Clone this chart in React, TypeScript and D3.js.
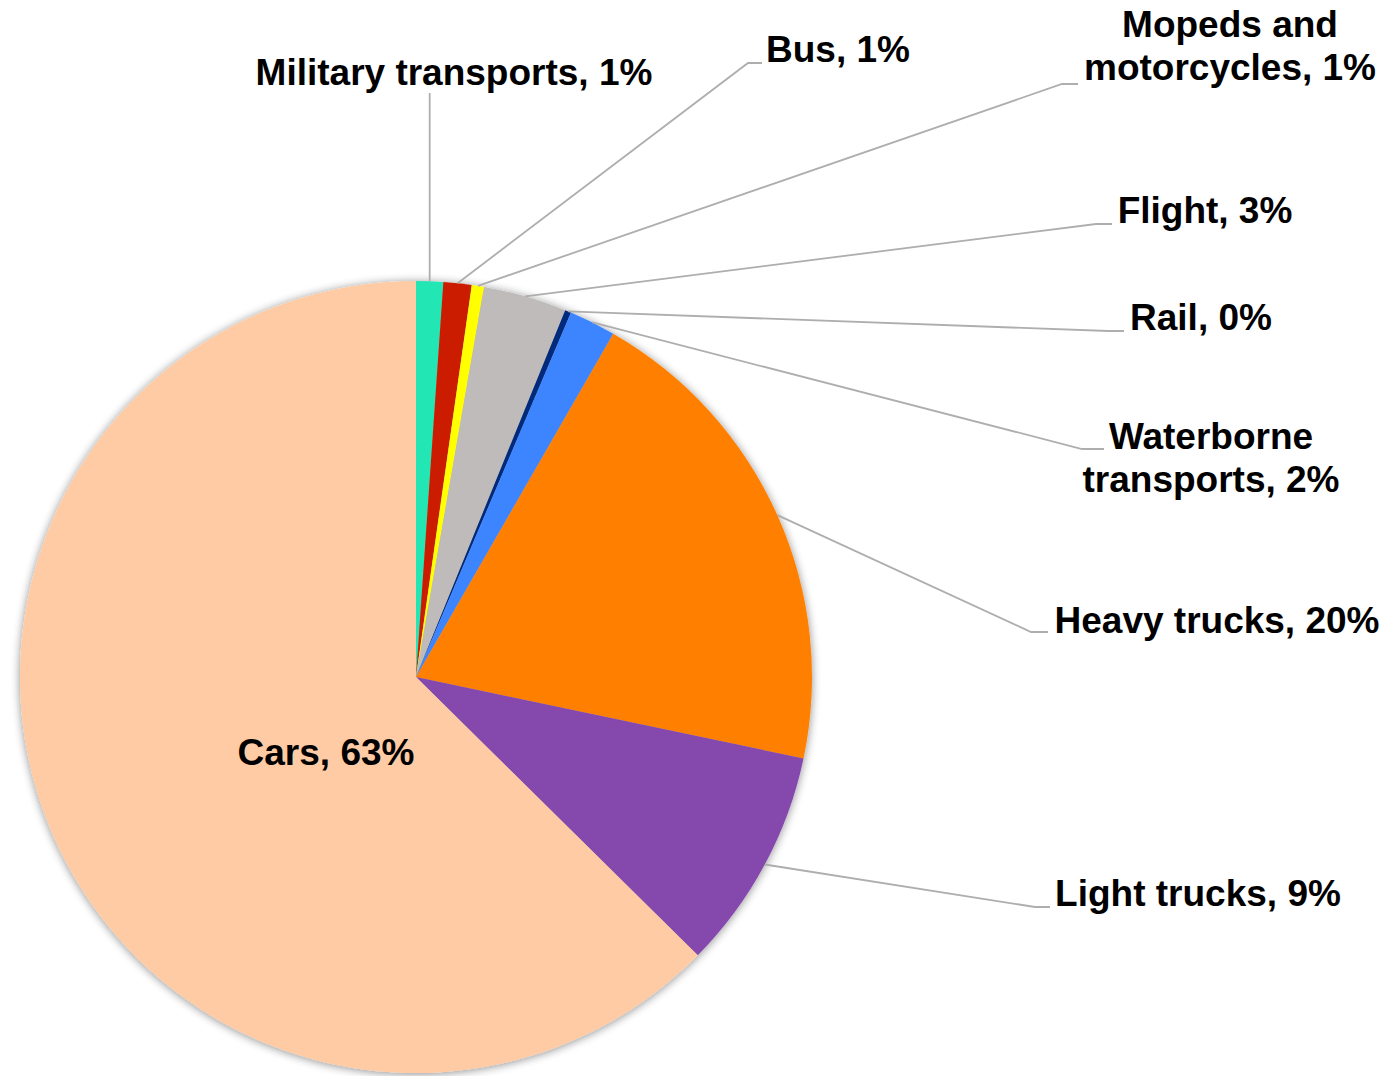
import React from "react";
import * as d3 from "d3";

const categories = [
  "Military transports",
  "Bus",
  "Mopeds and motorcycles",
  "Flight",
  "Rail",
  "Waterborne transports",
  "Heavy trucks",
  "Light trucks",
  "Cars",
];
const shares = [1.1, 1.15, 0.5, 3.4, 0.25, 1.9, 20.0, 9.1, 62.6];
const colors = [
  "#22e6b3",
  "#cc1f00",
  "#ffff00",
  "#bfbbba",
  "#002a7b",
  "#3e85ff",
  "#ff8000",
  "#8548ae",
  "#fecba5",
];
// label lines (text split), elbow point, text center x and first baseline
const labelLines = [
  ["Military transports, 1%"],
  ["Bus, 1%"],
  ["Mopeds and", "motorcycles, 1%"],
  ["Flight, 3%"],
  ["Rail, 0%"],
  ["Waterborne", "transports, 2%"],
  ["Heavy trucks, 20%"],
  ["Light trucks, 9%"],
  ["Cars, 63%"],
];
const layout = [
  { ex: null, ey: 93, hx: null, tx: 454, ty: 85 },
  { ex: 748, ey: 63, hx: 762, tx: 838, ty: 62 },
  { ex: 1062, ey: 84, hx: 1078, tx: 1230, ty: 37 },
  { ex: 1096, ey: 224, hx: 1112, tx: 1205, ty: 223 },
  { ex: 1108, ey: 331, hx: 1124, tx: 1201, ty: 330 },
  { ex: 1082, ey: 449, hx: 1104, tx: 1211, ty: 449 },
  { ex: 1031, ey: 632, hx: 1048, tx: 1217, ty: 633 },
  { ex: 1035, ey: 907, hx: 1050, tx: 1198, ty: 906 },
  null,
];

const W = 1388;
const H = 1076;
const cx = 416;
const cy = 677;
const R = 396;

export default function App() {
  const pie = d3
    .pie<number>()
    .sort(null)
    .value((d) => d)
    .startAngle(0)
    .endAngle(2 * Math.PI);
  const arcs = pie(shares);
  const arc = d3.arc<d3.PieArcDatum<number>>().innerRadius(0).outerRadius(R);
  const font = "'Liberation Sans', Arial, Helvetica, sans-serif";

  return (
    <svg
      width={W}
      height={H}
      style={{ position: "absolute", left: 0, top: 0, background: "#fff" }}
    >
      <defs>
        <filter id="shadow" x="-10%" y="-10%" width="120%" height="120%">
          <feGaussianBlur in="SourceAlpha" stdDeviation="5" />
          <feOffset dx="0" dy="1" result="b" />
          <feComponentTransfer>
            <feFuncA type="linear" slope="0.45" />
          </feComponentTransfer>
          <feMerge>
            <feMergeNode />
            <feMergeNode in="SourceGraphic" />
          </feMerge>
        </filter>
      </defs>
      <g transform={`translate(${cx},${cy})`}>
        <g filter="url(#shadow)">
          {arcs.map((a, i) => (
            <path key={categories[i]} d={arc(a) || ""} fill={colors[i]} />
          ))}
        </g>
      </g>
      {arcs.map((a, i) => {
        const L = layout[i];
        if (!L) return null;
        const mid = (a.startAngle + a.endAngle) / 2;
        const sx = cx + R * Math.sin(mid);
        const sy = cy - R * Math.cos(mid);
        const pts =
          L.ex === null
            ? `${sx},${sy} ${sx},${L.ey}`
            : `${sx},${sy} ${L.ex},${L.ey} ${L.hx},${L.ey}`;
        return (
          <polyline
            key={"l" + i}
            points={pts}
            fill="none"
            stroke="#aeaeae"
            strokeWidth={1.8}
          />
        );
      })}
      {labelLines.map((lines, i) => {
        const L = layout[i];
        const x = L ? L.tx : 326;
        const y = L ? L.ty : 765;
        return (
          <text
            key={"t" + i}
            x={x}
            y={y}
            textAnchor="middle"
            fontFamily={font}
            fontWeight="bold"
            fontSize={37}
            fill="#000"
          >
            {lines.map((ln, j) => (
              <tspan key={j} x={x} dy={j === 0 ? 0 : 43}>
                {ln}
              </tspan>
            ))}
          </text>
        );
      })}
    </svg>
  );
}
